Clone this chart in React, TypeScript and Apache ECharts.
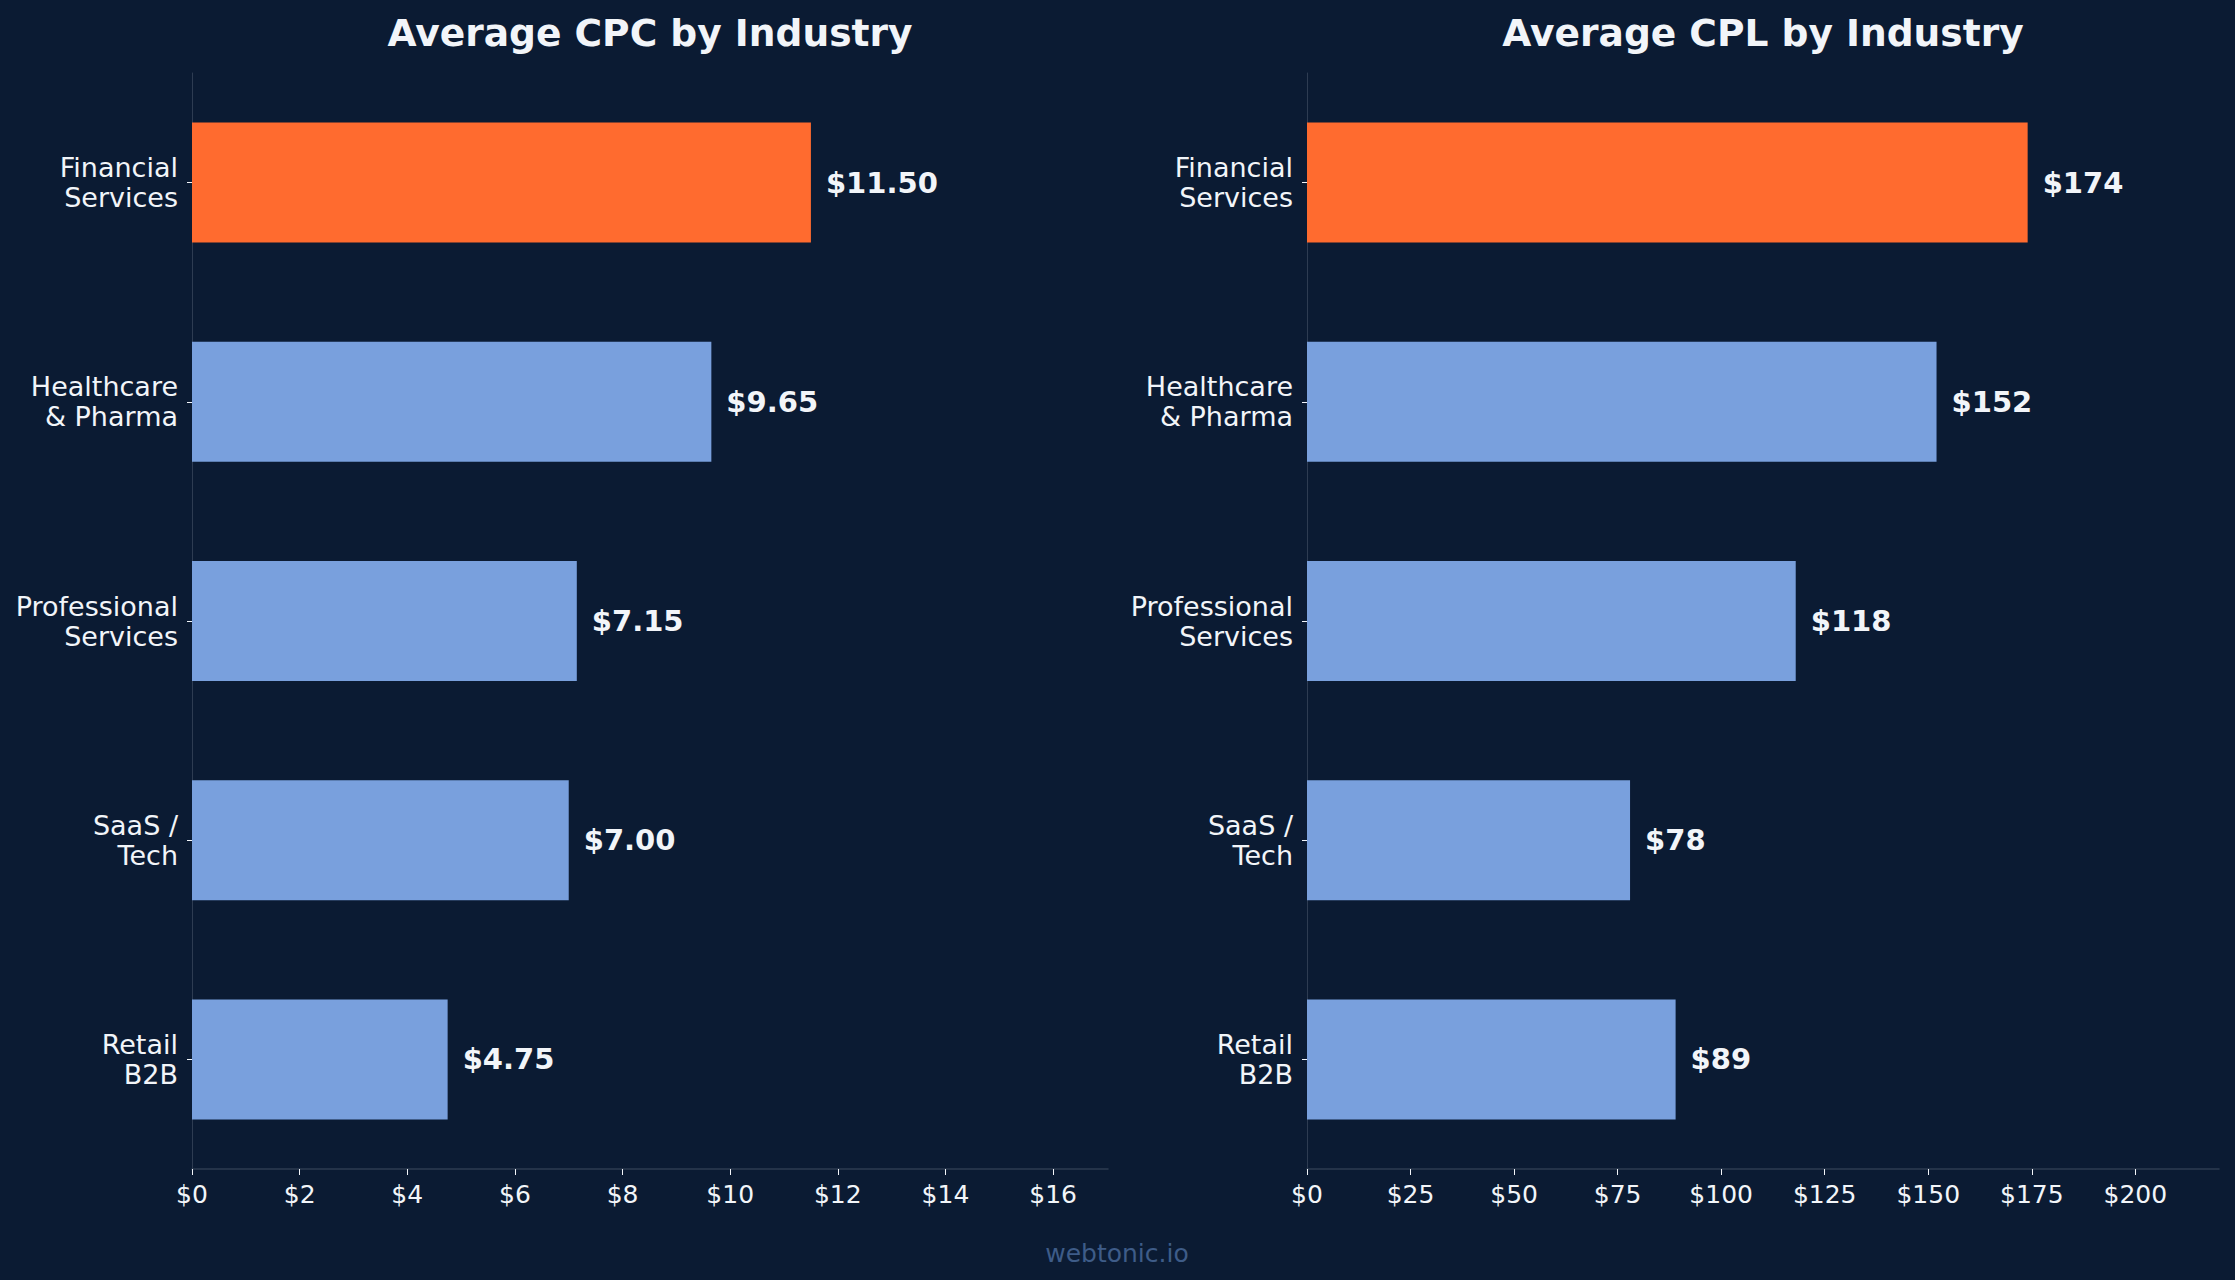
import React, { useEffect, useRef } from "react";
import * as echarts from "echarts";

const categories = [
  "Financial\nServices",
  "Healthcare\n& Pharma",
  "Professional\nServices",
  "SaaS /\nTech",
  "Retail\nB2B",
];
const cpcValues = [11.5, 9.65, 7.15, 7.0, 4.75];
const cplValues = [174, 152, 118, 78, 89];
const cpcTicks = [0, 2, 4, 6, 8, 10, 12, 14, 16];
const cplTicks = [0, 25, 50, 75, 100, 125, 150, 175, 200];
const cpcMax = 17.02;
const cplMax = 220.2;
const titles = ["Average CPC by Industry", "Average CPL by Industry"];
const watermark = "webtonic.io";

const BG = "#0B1B33";
const ORANGE = "#FF6B2F";
const BLUE = "#79A0DD";
const SPINE = "#2E3C52";
const TEXT = "#F2F5F9";
const FONT = "DejaVu Sans";

function barData(values: number[]) {
  return values.map((v, i) => ({
    value: v,
    itemStyle: { color: i === 0 ? ORANGE : BLUE },
  }));
}

export default function App() {
  const ref = useRef<HTMLDivElement>(null);
  useEffect(() => {
    document.body.style.margin = "0";
    document.body.style.background = BG;
    const chart = echarts.init(ref.current!, null, { renderer: "svg" });
    const grids = [
      { left: 192, right: 1127, top: 73, bottom: 111 },
      { left: 1307, right: 16, top: 73, bottom: 111 },
    ];
    const xAxis = [
      { max: cpcMax, ticks: cpcTicks },
      { max: cplMax, ticks: cplTicks },
    ].map((a, i) => ({
      type: "value",
      gridIndex: i,
      min: 0,
      max: a.max,
      splitLine: { show: false },
      axisLine: { show: true, lineStyle: { color: SPINE, width: 1.5 } },
      axisTick: {
        show: true,
        length: 6,
        customValues: a.ticks,
        lineStyle: { color: TEXT, width: 1 },
      },
      axisLabel: {
        customValues: a.ticks,
        formatter: (v: number) => "$" + v,
        color: TEXT,
        fontSize: 25,
        fontFamily: FONT,
        margin: 13,
      },
    }));
    const yAxis = [0, 1].map((i) => ({
      type: "category",
      gridIndex: i,
      data: categories,
      inverse: true,
      axisLine: { show: true, lineStyle: { color: SPINE, width: 1 } },
      axisTick: {
        show: true,
        alignWithLabel: true,
        length: 5,
        lineStyle: { color: TEXT, width: 1 },
      },
      axisLabel: {
        color: TEXT,
        fontSize: 27,
        lineHeight: 30,
        fontFamily: FONT,
        align: "right",
        margin: 14,
        padding: [10, 0, 0, 0],
      },
    }));
    const series = [
      { data: barData(cpcValues), fmt: (v: number) => "$" + v.toFixed(2) },
      { data: barData(cplValues), fmt: (v: number) => "$" + v.toFixed(0) },
    ].map((s, i) => ({
      type: "bar",
      xAxisIndex: i,
      yAxisIndex: i,
      data: s.data,
      barWidth: 120,
      label: {
        show: true,
        position: "right",
        distance: 15,
        formatter: (p: any) => s.fmt(p.value),
        color: TEXT,
        fontSize: 29,
        fontWeight: "bold",
        fontFamily: FONT,
      },
    }));
    chart.setOption({
      animation: false,
      backgroundColor: BG,
      title: titles.map((t, i) => ({
        text: t,
        left: i === 0 ? 645 : 1758,
        top: 9,
        textAlign: "center",
        textStyle: {
          color: TEXT,
          fontSize: 37.6,
          fontWeight: "bold",
          fontFamily: FONT,
        },
      })),
      grid: grids,
      xAxis,
      yAxis,
      series,
      graphic: [
        {
          type: "text",
          x: 1117,
          y: 1253,
          style: {
            text: watermark,
            fill: "#3E5C88",
            fontSize: 25,
            fontFamily: FONT,
            textAlign: "center",
            textVerticalAlign: "middle",
          },
        },
      ],
    });
    return () => chart.dispose();
  }, []);
  return <div ref={ref} style={{ width: 2235, height: 1280 }} />;
}
